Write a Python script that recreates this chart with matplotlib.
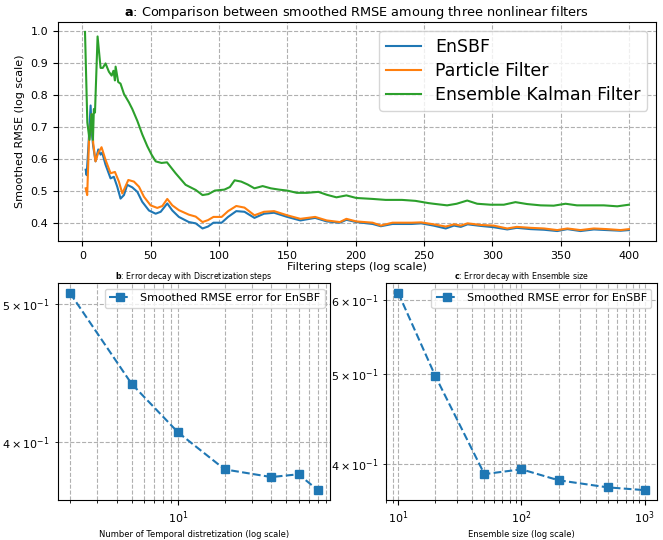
import matplotlib.pyplot as plt

# panel a: smoothed RMSE vs filtering steps
ensbf_steps = [2.5, 3.2, 4.5, 6.1, 7, 8, 9.7, 11.7, 13.4, 14.6, 17, 20.7, 23.1, 25.6, 28, 30.5, 32.9, 36.6,
               40.3, 43.9, 48.8, 53.7, 57.4, 62.2, 65.9, 70.7, 78, 83, 88, 92, 96, 102, 106.7, 112.7, 118.7,
               126, 133, 140.4, 150, 159.6, 170.4, 178.9, 188.5, 193.3, 200.5, 212.5, 218.5, 227, 241, 248,
               257, 266, 272, 277, 282, 291.5, 301, 311, 318, 328, 338, 347.6, 355, 364.6, 374.4, 384, 394, 400]
ensbf_rmse = [0.567, 0.55, 0.64, 0.767, 0.68, 0.64, 0.593, 0.63, 0.614, 0.62, 0.583, 0.54, 0.545, 0.514, 0.477,
              0.488, 0.52, 0.512, 0.498, 0.467, 0.44, 0.43, 0.436, 0.462, 0.44, 0.42, 0.404, 0.4, 0.384, 0.39,
              0.402, 0.402, 0.42, 0.438, 0.436, 0.417, 0.43, 0.433, 0.42, 0.409, 0.417, 0.406, 0.402, 0.411,
              0.404, 0.398, 0.391, 0.398, 0.398, 0.4, 0.393, 0.384, 0.393, 0.389, 0.397, 0.392, 0.388, 0.381,
              0.386, 0.382, 0.38, 0.376, 0.382, 0.376, 0.381, 0.379, 0.377, 0.379]

pf_steps = [2.5, 3.6, 4.9, 6.1, 7, 8, 9.7, 11.7, 14.1, 17, 20.7, 23.9, 26.8, 29.3, 33.7, 37.8, 41.5, 45.1,
            50, 54.9, 58.6, 62.2, 65.9, 70.7, 78, 83, 88, 92, 96, 102, 106.7, 112.7, 118.7, 126, 133, 140.4,
            150, 159.6, 170.4, 178.9, 188.5, 193.3, 200.5, 212.5, 218.5, 227, 241, 248, 257, 266, 272, 277,
            282, 291.5, 301, 311, 318, 328, 338, 347.6, 355, 364.6, 374.4, 384, 394, 400]
pf_rmse = [0.509, 0.488, 0.655, 0.703, 0.74, 0.65, 0.593, 0.62, 0.637, 0.598, 0.556, 0.56, 0.53, 0.493,
           0.535, 0.53, 0.514, 0.483, 0.456, 0.448, 0.454, 0.476, 0.456, 0.441, 0.427, 0.421, 0.404, 0.41,
           0.42, 0.42, 0.438, 0.454, 0.449, 0.425, 0.436, 0.438, 0.425, 0.414, 0.42, 0.409, 0.404, 0.414,
           0.406, 0.402, 0.393, 0.402, 0.402, 0.403, 0.397, 0.39, 0.397, 0.393, 0.4, 0.395, 0.393, 0.384,
           0.389, 0.386, 0.384, 0.379, 0.384, 0.379, 0.384, 0.382, 0.379, 0.382]

enkf_steps = [2, 3.7, 5.3, 6.8, 7.8, 8.5, 9.3, 11.2, 13.4, 15, 17, 19.5, 21.5, 22.8, 23.9, 24.4, 26.3, 28,
              30.5, 34.1, 36.6, 40.3, 43.9, 47.6, 50.7, 53.7, 58, 62, 68.3, 75.6, 83, 88, 92.3, 97, 104, 108,
              111.5, 116.3, 121, 126, 132, 138, 144, 150, 157, 164.4, 172.8, 178.9, 186, 193.3, 200.5, 212.5,
              222, 234, 243.8, 253.4, 257, 267, 274, 281.7, 289, 298.8, 308.5, 317, 325.6, 335.4, 345, 353.7,
              362, 372, 381.7, 391.5, 400]
enkf_rmse = [0.996, 0.714, 0.66, 0.74, 0.66, 0.756, 0.745, 0.982, 0.884, 0.884, 0.898, 0.872, 0.86, 0.875,
             0.845, 0.888, 0.84, 0.835, 0.803, 0.777, 0.756, 0.719, 0.677, 0.64, 0.614, 0.593, 0.588, 0.59,
             0.556, 0.52, 0.504, 0.488, 0.491, 0.502, 0.505, 0.513, 0.534, 0.53, 0.521, 0.509, 0.516, 0.509,
             0.505, 0.502, 0.495, 0.495, 0.498, 0.489, 0.481, 0.487, 0.479, 0.476, 0.473, 0.473, 0.47, 0.463,
             0.461, 0.456, 0.461, 0.471, 0.461, 0.458, 0.458, 0.466, 0.46, 0.456, 0.455, 0.461, 0.456, 0.456,
             0.456, 0.453, 0.458]

# panel b: discretization steps
disc_steps = [2, 5, 10, 20, 40, 60, 80]
disc_rmse = [0.509, 0.4397, 0.4065, 0.383, 0.3783, 0.380, 0.3704]

# panel c: ensemble size
ens_size = [10, 20, 50, 100, 200, 500, 1000]
ens_rmse = [0.611, 0.497, 0.3896, 0.3943, 0.3837, 0.377, 0.3744]

fig = plt.figure(figsize=(6.63, 5.4), dpi=100)

ax1 = fig.add_axes([0.0872, 0.5537, 0.9023, 0.4056])
ax1.plot(ensbf_steps, ensbf_rmse, label='EnSBF')
ax1.plot(pf_steps, pf_rmse, label='Particle Filter')
ax1.plot(enkf_steps, enkf_rmse, label='Ensemble Kalman Filter')
ax1.set_title(r'$\bf{a}$: Comparison between smoothed RMSE amoung three nonlinear filters', fontsize=9.3, pad=4)
ax1.set_xlabel('Filtering steps (log scale)', fontsize=8, labelpad=1)
ax1.set_ylabel('Smoothed RMSE (log scale)', fontsize=8)
ax1.tick_params(labelsize=8)
ax1.grid(True, linestyle='--')
ax1.legend(fontsize=12.5, loc='upper right', labelspacing=0.35)

ax2 = fig.add_axes([0.0870, 0.0741, 0.4111, 0.4013])
ax2.plot(disc_steps, disc_rmse, 's--', markersize=6, label='Smoothed RMSE error for EnSBF')
ax2.set_xscale('log')
ax2.set_yscale('log')
ax2.set_title(r'$\bf{b}$: Error decay with Discretization steps', fontsize=5.7, pad=3)
ax2.set_xlabel('Number of Temporal distretization (log scale)', fontsize=6, labelpad=3)
ax2.tick_params(which='both', labelsize=8)
ax2.grid(True, which='both', linestyle='--')
ax2.legend(fontsize=8, loc='upper right')

ax3 = fig.add_axes([0.5822, 0.0741, 0.4087, 0.4013])
ax3.plot(ens_size, ens_rmse, 's--', markersize=6, label='Smoothed RMSE error for EnSBF')
ax3.set_xscale('log')
ax3.set_yscale('log')
ax3.set_title(r'$\bf{c}$: Error decay with Ensemble size', fontsize=5.7, pad=3)
ax3.set_xlabel('Ensemble size (log scale)', fontsize=6, labelpad=3)
ax3.tick_params(which='both', labelsize=8)
ax3.grid(True, which='both', linestyle='--')
ax3.legend(fontsize=8, loc='upper right')

plt.savefig('out.png', dpi=100)
